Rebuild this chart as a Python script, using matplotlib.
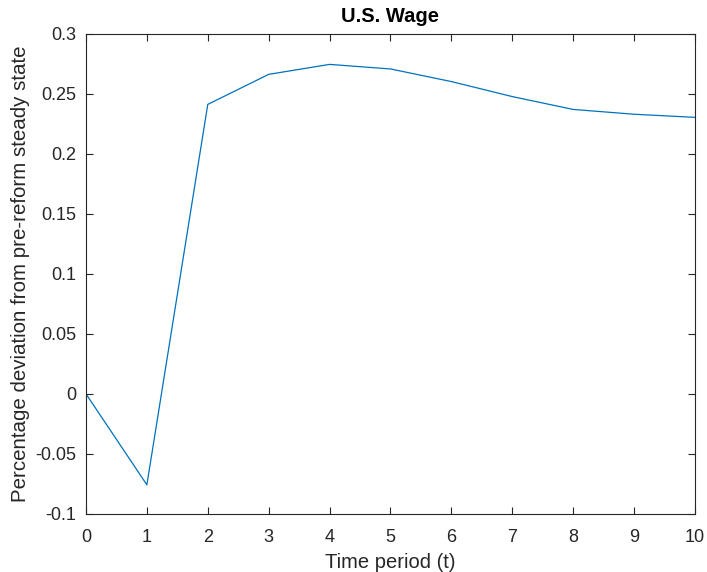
import matplotlib
matplotlib.use("Agg")
import matplotlib.pyplot as plt

periods = [0, 1, 2, 3, 4, 5, 6, 7, 8, 9, 10]
wage_dev = [0.0, -0.0757, 0.241, 0.266, 0.2743, 0.2705, 0.260, 0.2475, 0.2368, 0.2328, 0.2302]

xticks = list(range(0, 11))
yticks = [-0.1, -0.05, 0, 0.05, 0.1, 0.15, 0.2, 0.25, 0.3]
ylabels = ["-0.1", "-0.05", "0", "0.05", "0.1", "0.15", "0.2", "0.25", "0.3"]

plt.rcParams["font.family"] = ["Liberation Sans", "DejaVu Sans"]
axcol = "#262626"

fig = plt.figure(figsize=(7.07, 5.72), dpi=100)
ax = fig.add_axes([0.1216, 0.1014, 0.8614, 0.840])
ax.plot(periods, wage_dev, color="#0072BD", lw=0.9)

ax.set_xlim(0, 10)
ax.set_ylim(-0.1, 0.3)
ax.set_xticks(xticks)
ax.set_yticks(yticks)
ax.set_yticklabels(ylabels)
ax.tick_params(direction="in", top=True, right=True, length=5, width=0.8,
               colors=axcol, labelsize=13)
ax.tick_params(axis="x", pad=11)
ax.tick_params(axis="y", pad=7)
for s in ax.spines.values():
    s.set_color(axcol)
    s.set_linewidth(0.8)

ax.set_xlabel("Time period (t)", fontsize=14.5, color=axcol, labelpad=5)
ax.set_ylabel("Percentage deviation from pre-reform steady state", fontsize=14.8,
              color=axcol, labelpad=4)
ax.set_title("U.S. Wage", fontsize=14.5, fontweight="bold", color="black", pad=8)

fig.savefig("out.png", dpi=100)
